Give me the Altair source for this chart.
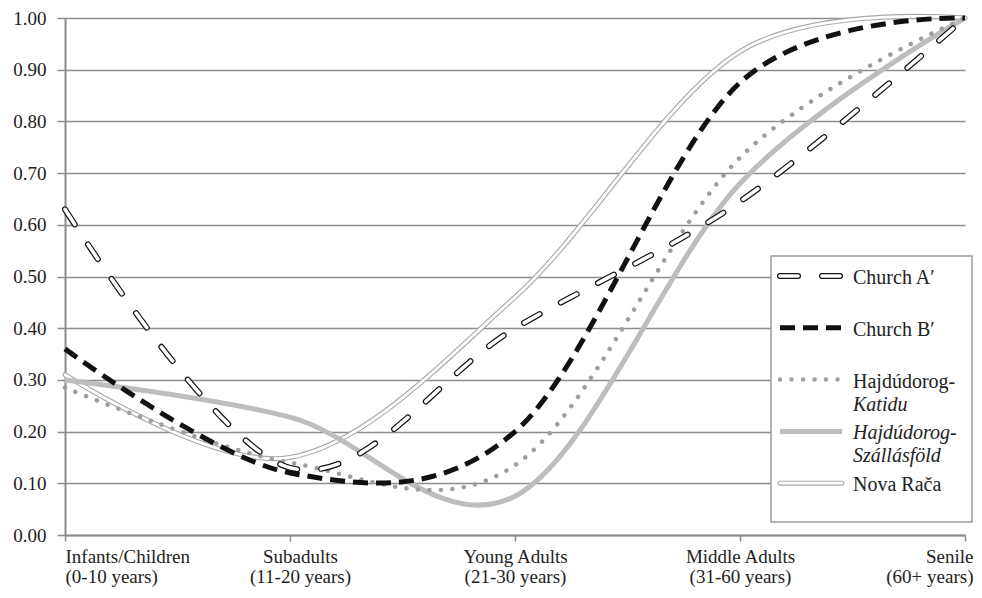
import altair as alt
import pandas as pd

# ---- data -------------------------------------------------------------
stages = [
    "Infants/Children\n(0-10 years)",
    "Subadults\n(11-20 years)",
    "Young Adults\n(21-30 years)",
    "Middle Adults\n(31-60 years)",
    "Senile\n(60+ years)",
]
church_a = [0.63, 0.13, 0.40, 0.645, 1.00]
church_b = [0.36, 0.12, 0.20, 0.875, 1.00]
katidu = [0.285, 0.14, 0.135, 0.73, 1.00]
szallasfold = [0.30, 0.228, 0.075, 0.68, 1.00]
nova_raca = [0.31, 0.15, 0.46, 0.935, 1.00]

series_names = ["Church A′", "Church B′", "Hajdúdorog-Katidu",
                "Hajdúdorog-Szállásföld", "Nova Rača"]
# legend label lines: (text, italic)
legend_labels = [
    [("Church A′", False)],
    [("Church B′", False)],
    [("Hajdúdorog-", False), ("Katidu", True)],
    [("Hajdúdorog-", True), ("Szállásföld", True)],
    [("Nova Rača", False)],
]
y_ticks = [0.0, 0.1, 0.2, 0.3, 0.4, 0.5, 0.6, 0.7, 0.8, 0.9, 1.0]

rows = []
for name, vals in zip(series_names, [church_a, church_b, katidu, szallasfold, nova_raca]):
    for s, v in zip(stages, vals):
        rows.append({"series": name, "stage": s, "value": v})
df = pd.DataFrame(rows)

# ---- styling ----------------------------------------------------------
FONT = "Liberation Serif, Times New Roman, DejaVu Serif, serif"
GRID = "#8c8c8c"
W, H = 900, 517

x_axis = alt.Axis(
    title=None,
    labelExpr="split(datum.label, '\\n')",
    labelFont=FONT, labelFontSize=19, labelColor="#222",
    labelLineHeight=20, labelBaseline="top", labelPadding=6, labelAngle=0,
    labelOverlap=False,
    labelAlign={"condition": [{"test": "datum.index == 0", "value": "left"},
                              {"test": "datum.index == 1", "value": "right"}],
                "value": "center"},
    labelOffset={"condition": [{"test": "datum.index == 1", "value": 8},
                               {"test": "datum.index > 0.2 && datum.index < 0.3", "value": 10}],
                 "value": 0},
    tickSize=6, tickColor=GRID, tickWidth=1.5,
    domainColor=GRID, domainWidth=2, grid=False,
)
y_axis = alt.Axis(
    title=None, values=y_ticks, format=".2f",
    grid=True, gridColor=GRID, gridWidth=1.5,
    domainColor=GRID, domainWidth=2,
    tickColor=GRID, tickWidth=1.5, tickSize=8,
    labelFont=FONT, labelFontSize=19, labelColor="#222", labelPadding=11,
)

x_enc = alt.X("stage:N", sort=stages,
              scale=alt.Scale(type="point", padding=0), axis=x_axis)
y_enc = alt.Y("value:Q", scale=alt.Scale(domain=[0, 1], nice=False), axis=y_axis)


def series_line(name, **kw):
    return (
        alt.Chart(df)
        .transform_filter(alt.datum.series == name)
        .mark_line(interpolate="cardinal", tension=0, **kw)
        .encode(x=x_enc, y=y_enc)
    )


STYLES = {
    "Nova Rača": [dict(color="#a8a8a8", strokeWidth=5, strokeCap="round"),
                  dict(color="white", strokeWidth=2.8, strokeCap="round")],
    "Hajdúdorog-Szállásföld": [dict(color="#bdbdbd", strokeWidth=5)],
    "Hajdúdorog-Katidu": [dict(color="#9e9e9e", strokeWidth=4.5, strokeCap="round",
                               strokeDash=[0.01, 11.5])],
    "Church B′": [dict(color="#111111", strokeWidth=5, strokeDash=[15, 8])],
    "Church A′": [dict(color="#111111", strokeWidth=6, strokeCap="round", strokeDash=[18, 24]),
                  dict(color="white", strokeWidth=3.6, strokeCap="round", strokeDash=[18, 24])],
}
draw_order = ["Nova Rača", "Hajdúdorog-Szállásföld", "Hajdúdorog-Katidu",
              "Church B′", "Church A′"]

layers = []
for name in draw_order:
    for st in STYLES[name]:
        layers.append(series_line(name, **st))

# ---- legend (manual, inside plot area) -------------------------------
one = pd.DataFrame({"k": [0]})
box_x0, box_x1, box_y0, box_y1 = 706, 907, 238, 504
sym_x0, sym_x1, text_x = 715, 777, 788
row_y0, row_step = 258, 51.8
line_step = 23

layers.append(
    alt.Chart(one).mark_rect(fill="white", stroke="#9a9a9a", strokeWidth=1.5)
    .encode(x=alt.value(box_x0), x2=alt.value(box_x1),
            y=alt.value(box_y0), y2=alt.value(box_y1))
)

for i, name in enumerate(series_names):
    ry = row_y0 + i * row_step
    for st in STYLES[name]:
        layers.append(
            alt.Chart(one).mark_rule(**st)
            .encode(x=alt.value(sym_x0), x2=alt.value(sym_x1), y=alt.value(ry))
        )
    for j, (txt, ital) in enumerate(legend_labels[i]):
        ty = ry + 2 + j * line_step
        layers.append(
            alt.Chart(one).mark_text(
                text=txt, font=FONT, fontSize=20, color="#222",
                fontStyle="italic" if ital else "normal",
                align="left", baseline="middle")
            .encode(x=alt.value(text_x), y=alt.value(ty))
        )

chart = (
    alt.layer(*layers)
    .properties(
        width=W, height=H,
        autosize=alt.AutoSizeParams(type="none"),
        padding={"left": 57, "top": 10, "right": 9, "bottom": 55},
        background="white",
    )
    .configure_view(stroke=None)
)

chart.save("out.html", embed_options={"renderer": "svg", "actions": False})
